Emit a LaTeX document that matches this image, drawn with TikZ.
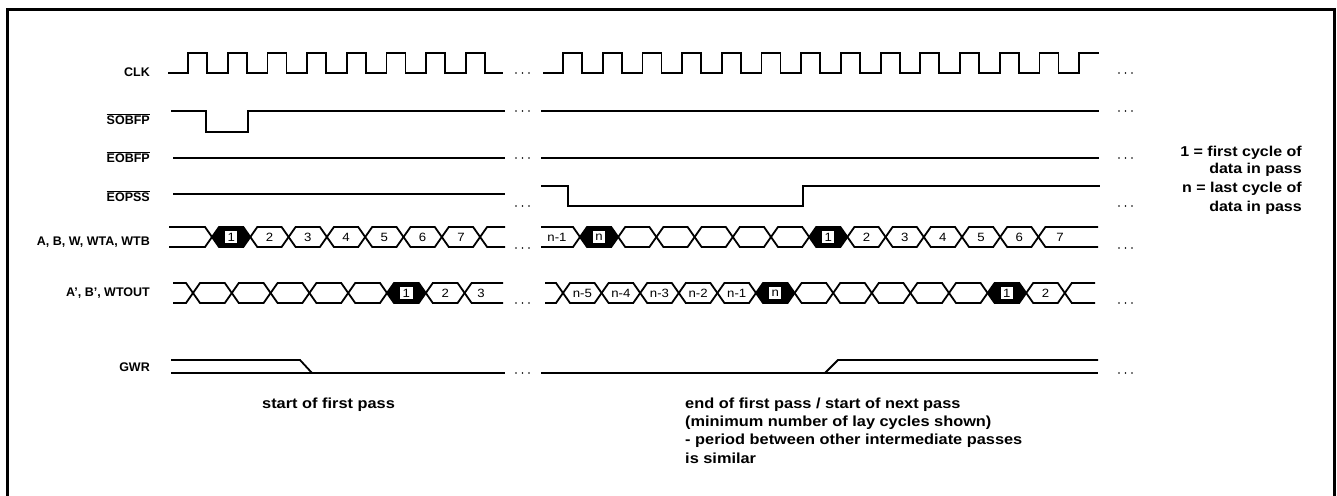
\documentclass[tikz,border=0pt]{standalone}
\usepackage{fontspec}
\setmainfont{Liberation Sans}
\newfontfamily\widefont[FakeStretch=1.12]{Liberation Sans}
\newfontfamily\numfont[FakeStretch=1.1]{Liberation Sans}
\newcommand{\BusHex}[5]{\draw[#1] ({#2},{(#4+#5)/2}) -- ({#2+7},{#4}) -- ({#3-7},{#4}) -- ({#3},{(#4+#5)/2}) -- ({#3-7},{#5}) -- ({#2+7},{#5}) -- cycle;}
\newcommand{\OvlTxt}[1]{$\overline{\hbox{#1}}$}
\begin{document}
\begin{tikzpicture}[x=1pt,y=-1pt,
  sig/.style={line width=1.8pt, line join=miter},
  blk/.style={line width=1.8pt, line join=miter, fill=black},
  lbl/.style={font=\fontsize{12.5}{14}\selectfont\bfseries, anchor=base east, inner sep=0pt},
  leg/.style={font=\widefont\fontsize{14.3}{16}\selectfont\bfseries, anchor=base east, inner sep=0pt},
  note/.style={font=\widefont\fontsize{14.6}{16}\selectfont\bfseries, anchor=base west, inner sep=0pt},
  num/.style={font=\numfont\fontsize{12}{13}\selectfont, inner sep=0pt},
  numbox/.style={num, fill=white, inner xsep=2.5pt, minimum height=12.5pt},
  dotc/.style={fill=black}]
\useasboundingbox (0,0) rectangle (1337,495);
% frame
\draw[line width=2.3pt] (7.5,496) -- (7.5,9.5) -- (1334.5,9.5) -- (1334.5,496);

% labels
\node[lbl] (lclk) at (150,77) {CLK};
\node[lbl] (lsob) at (150,124.5) {\OvlTxt{SOBFP}};
\node[lbl] (leob) at (150,162.7) {\OvlTxt{EOBFP}};
\node[lbl] (leop) at (150,201) {\OvlTxt{EOPSS}};
\node[lbl] (lab) at (150,245) {A, B, W, WTA, WTB};
\node[lbl] (lap) at (150,296) {A', B', WTOUT};
\node[lbl] (lgwr) at (150,371) {GWR};

% legend
\node[leg] (g1) at (1302,156) {1 = first cycle of};
\node[leg] (g2) at (1302,173.3) {data in pass};
\node[leg] (g3) at (1302,192.7) {n = last cycle of};
\node[leg] (g4) at (1302,211) {data in pass};

% CLK
\draw[sig] (168,73) foreach \k in {0,...,7} { -- ({188+39.7*\k},73) -- ({188+39.7*\k},53) -- ({207+39.7*\k},53) -- ({207+39.7*\k},73) } -- (503,73);
\draw[sig] (543,73) foreach \k in {0,...,12} { -- ({563+39.7*\k},73) -- ({563+39.7*\k},53) -- ({582+39.7*\k},53) -- ({582+39.7*\k},73) } -- (1079,73) -- (1079,53) -- (1099,53);

% SOBFP
\draw[sig] (171,111) -- (206,111) -- (206,132) -- (248,132) -- (248,111) -- (505,111);
\draw[sig] (541,111) -- (1099,111);
% EOBFP
\draw[sig] (173,158) -- (505,158);
\draw[sig] (541,158) -- (1099,158);
% EOPSS
\draw[sig] (173,194) -- (505,194);
\draw[sig] (541,186) -- (568,186) -- (568,206) -- (803,206) -- (803,186) -- (1100,186);

% A,B left
\draw[sig] (169,227) -- (205,227) -- (212,237) -- (205,247) -- (169,247);
\foreach \k in {1,...,6} {\pgfmathsetmacro\xa{212+38.3*\k}\pgfmathsetmacro\xb{212+38.3*(\k+1)}\BusHex{sig}{\xa}{\xb}{227}{247}}
\BusHex{blk}{212}{250.3}{227}{247}
\draw[sig] (505,227) -- (487.1,227) -- (480.1,237) -- (487.1,247) -- (505,247);
\node[numbox] (abl1) at (231.2,237) {1};
\foreach \k/\t in {1/2,2/3,3/4,4/5,5/6,6/7} {\node[num] (abl\t) at ({212+38.3*(\k+0.5)},237) {\t};}

% A,B right
\draw[sig] (541,227) -- (573,227) -- (580,237) -- (573,247) -- (541,247);
\foreach \k in {1,...,5,7,8,9,10,11} {\pgfmathsetmacro\xa{580+38.2*\k}\pgfmathsetmacro\xb{580+38.2*(\k+1)}\BusHex{sig}{\xa}{\xb}{227}{247}}
\BusHex{blk}{580}{618.2}{227}{247}
\BusHex{blk}{809.2}{847.4}{227}{247}
\draw[sig] (1098,227) -- (1045.4,227) -- (1038.4,237) -- (1045.4,247) -- (1098,247);
\node[num] (abrn1) at (557,237) {n-1};
\node[numbox] (abrn) at (599.1,237) {n};
\node[numbox] (abr1) at (828.3,237) {1};
\foreach \k/\t in {7/2,8/3,9/4,10/5,11/6} {\node[num] (abr\t) at ({580+38.2*(\k+0.5)},237) {\t};}
\node[num] (abr7) at (1060,237) {7};

% A',B' left
\draw[sig] (173,283) -- (186,283) -- (193,293) -- (186,303) -- (173,303);
\foreach \k in {0,...,4,6} {\pgfmathsetmacro\xa{193+38.8*\k}\pgfmathsetmacro\xb{193+38.8*(\k+1)}\BusHex{sig}{\xa}{\xb}{283}{303}}
\BusHex{blk}{387}{425.8}{283}{303}
\draw[sig] (503,283) -- (471.6,283) -- (464.6,293) -- (471.6,303) -- (503,303);
\node[numbox] (apl1) at (406.4,293) {1};
\node[num] (apl2) at (445.2,293) {2};
\node[num] (apl3) at (481,293) {3};

% A',B' right
\draw[sig] (545,283) -- (556,283) -- (563,293) -- (556,303) -- (545,303);
\foreach \k in {0,...,4,6,7,8,9,10,12} {\pgfmathsetmacro\xa{563+38.6*\k}\pgfmathsetmacro\xb{563+38.6*(\k+1)}\BusHex{sig}{\xa}{\xb}{283}{303}}
\BusHex{blk}{756}{794.6}{283}{303}
\BusHex{blk}{987.6}{1026.2}{283}{303}
\draw[sig] (1095,283) -- (1071.8,283) -- (1064.8,293) -- (1071.8,303) -- (1095,303);
\foreach \k/\t/\n in {0/n-5/a,1/n-4/b,2/n-3/c,3/n-2/d,4/n-1/e} {\node[num] (apr\n) at ({563+38.6*(\k+0.5)},293) {\t};}
\node[numbox] (aprn) at (775.3,293) {n};
\node[numbox] (apr1) at (1006.9,293) {1};
\node[num] (apr2) at (1045.5,293) {2};

% GWR
\draw[sig] (171,360) -- (300,360) -- (312,373);
\draw[sig] (171,373) -- (505,373);
\draw[sig] (541,373) -- (1098,373);
\draw[sig] (825,373) -- (838,360) -- (1098,360);

% dots
\foreach \y in {73,111,158,206,248,303,373} {
  \foreach \x in {516,522.5,529,1119,1125.5,1132} {\fill[dotc] (\x,\y) circle (0.9);}
}

% notes
\node[note] (n1) at (262,408) {start of first pass};
\node[note] (n2) at (685,408) {end of first pass / start of next pass};
\node[note] (n3) at (685,426.3) {(minimum number of lay cycles shown)};
\node[note] (n4) at (685,444.6) {- period between other intermediate passes};
\node[note] (n5) at (685,463) {is similar};
\end{tikzpicture}
\end{document}
